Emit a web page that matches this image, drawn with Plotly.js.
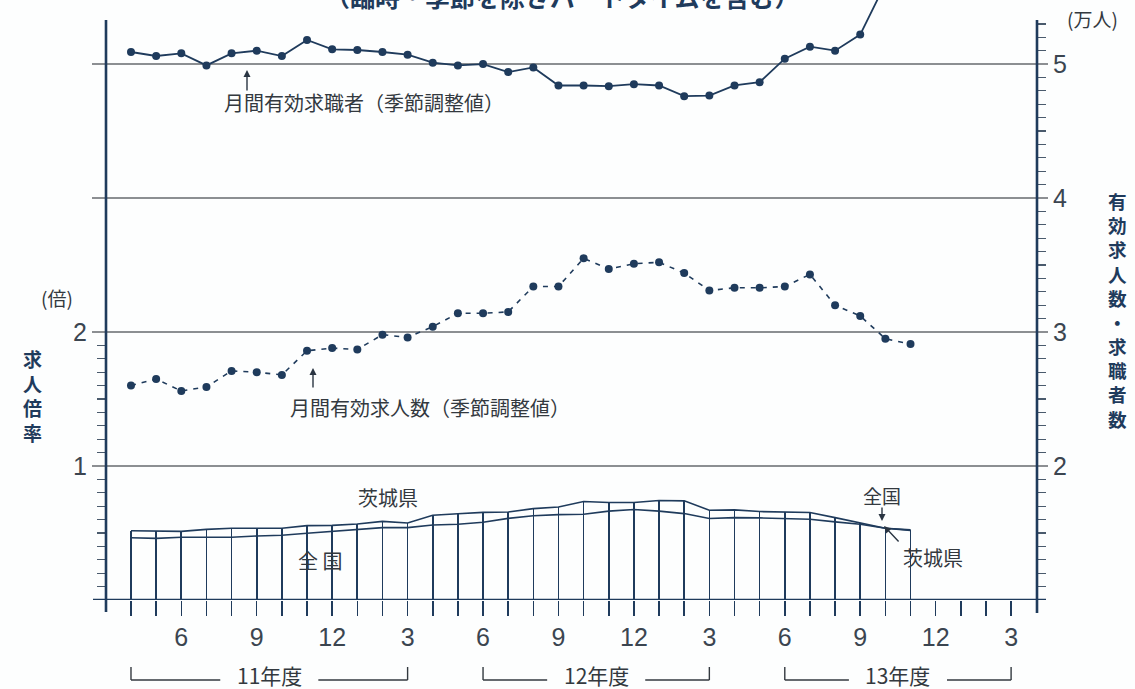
<!DOCTYPE html>
<html><head><meta charset="utf-8">
<script src="https://cdn.plot.ly/plotly-3.0.1.min.js"></script>
<style>html,body{margin:0;padding:0;background:#fdfefe}#chart{width:1135px;height:689px}</style>
</head><body><div id="chart"></div>
<script>
// ---- data (month index 0 = April of fiscal 11) ----
const monthIndex = [0,1,2,3,4,5,6,7,8,9,10,11,12,13,14,15,16,17,18,19,20,21,22,23,24,25,26,27,28,29,30,31];
const seekerMonthIndex = [0,1,2,3,4,5,6,7,8,9,10,11,12,13,14,15,16,17,18,19,20,21,22,23,24,25,26,27,28,29,30];
// 月間有効求職者 (万人)
const jobSeekers = [5.09,5.06,5.08,4.99,5.08,5.10,5.06,5.18,5.11,5.105,5.09,5.07,5.01,4.99,5.00,4.94,4.975,4.84,4.84,4.835,4.85,4.84,4.76,4.765,4.84,4.865,5.04,5.13,5.10,5.22,5.60];
// 月間有効求人数 (万人)
const jobOffers = [2.60,2.65,2.56,2.59,2.71,2.70,2.68,2.86,2.88,2.87,2.98,2.96,3.04,3.14,3.14,3.15,3.34,3.34,3.55,3.47,3.51,3.52,3.44,3.31,3.33,3.33,3.34,3.43,3.20,3.12,2.95,2.91];
// 求人倍率 茨城県 / 全国 (倍)
const ibarakiRatio = [0.517,0.517,0.512,0.527,0.535,0.535,0.535,0.555,0.557,0.567,0.587,0.575,0.632,0.644,0.654,0.657,0.682,0.694,0.735,0.728,0.728,0.743,0.740,0.670,0.673,0.660,0.655,0.653,0.615,0.575,0.535,0.523];
const nationalRatio = [0.465,0.460,0.468,0.468,0.468,0.478,0.483,0.498,0.512,0.527,0.540,0.540,0.560,0.565,0.580,0.609,0.629,0.637,0.640,0.663,0.675,0.663,0.645,0.608,0.615,0.613,0.608,0.603,0.583,0.565,0.535,0.520];
// axis ticks
const xTickVals = [2,5,8,11,14,17,20,23,26,29,32,35];
const xTickText = ['6','9','12','3','6','9','12','3','6','9','12','3'];
const fyLabels = ['11年度','12年度','13年度'];
const fyStart = [0,14,26];
const fyEnd = [11,23,35];
const leftTickVals = [1,2,3,4];
const leftTickText = ['1','2','',''];
const rightTickVals = [2,3,4,5];
const rightTickText = ['2','3','4','5'];

// ---- styling ----
const NAVY = '#1f3b5c';
const TXT = '#33393f';
const GRID = '#8c8f92';
const NUMFONT = 'Liberation Sans Narrow, Liberation Sans, Arial, sans-serif';
const JP = 'Noto Sans CJK JP, Noto Sans, sans-serif';
const L = 106, R = 1037, T = 0, B = 600;
const px = (x) => (x - L) / (R - L);
const py = (y) => (B - y) / (B - T);

const leftMinor = [];
for (let k = 1; k < 20; k++) if (k !== 10) leftMinor.push(k / 10);
const rightMinor = [];
for (let k = 11; k <= 53; k++) if (k % 10 !== 0) rightMinor.push(k / 10);
const xMinor = [];
for (let k = 0; k <= 35; k++) xMinor.push(k);

const traces = [
  {type:'bar', x:monthIndex, y:ibarakiRatio, width:0.065, marker:{color:NAVY, line:{width:0}}, yaxis:'y', hoverinfo:'skip'},
  {type:'scatter', mode:'lines', x:monthIndex, y:ibarakiRatio, line:{color:NAVY, width:1.6}, yaxis:'y', name:'茨城県'},
  {type:'scatter', mode:'lines', x:monthIndex, y:nationalRatio, line:{color:NAVY, width:1.6}, yaxis:'y', name:'全国'},
  {type:'scatter', mode:'lines+markers', x:monthIndex, y:jobOffers, yaxis:'y2', name:'月間有効求人数',
   line:{color:NAVY, width:1.6, dash:'5px,6px'}, marker:{color:NAVY, size:8}},
  {type:'scatter', mode:'lines+markers', x:seekerMonthIndex, y:jobSeekers, yaxis:'y2', name:'月間有効求職者',
   line:{color:NAVY, width:1.8}, marker:{color:NAVY, size:8}}
];

const shapes = [
  {type:'line', xref:'paper', yref:'y', x0:px(93), x1:px(1046), y0:0, y1:0, line:{color:NAVY, width:2.6}},
  {type:'line', xref:'paper', yref:'paper', x0:0, x1:0, y0:py(612), y1:py(20), line:{color:NAVY, width:2.6}},
  {type:'line', xref:'paper', yref:'paper', x0:1, x1:1, y0:py(613), y1:py(20), line:{color:NAVY, width:2.6}}
];
const annotations = [];
for (let k = 0; k < fyLabels.length; k++) {
  const mid = (fyStart[k] + fyEnd[k]) / 2;
  const yb = py(680), yt = py(667);
  shapes.push({type:'line', xref:'x', yref:'paper', x0:fyStart[k], x1:fyStart[k], y0:yb, y1:yt, line:{color:TXT, width:1.4}});
  shapes.push({type:'line', xref:'x', yref:'paper', x0:fyEnd[k], x1:fyEnd[k], y0:yb, y1:yt, line:{color:TXT, width:1.4}});
  shapes.push({type:'line', xref:'x', yref:'paper', x0:fyStart[k], x1:mid - 1.95, y0:yb, y1:yb, line:{color:TXT, width:1.4}});
  shapes.push({type:'line', xref:'x', yref:'paper', x0:mid + 1.95, x1:fyEnd[k], y0:yb, y1:yb, line:{color:TXT, width:1.4}});
  annotations.push({xref:'x', yref:'paper', x:mid, y:py(675), text:fyLabels[k], showarrow:false,
    font:{family:JP, size:21, color:TXT}, xanchor:'center', yanchor:'middle'});
}

function label(text, x, y, size, opts) {
  annotations.push(Object.assign({xref:'paper', yref:'paper', x:px(x), y:py(y), text:text, showarrow:false,
    xanchor:'center', yanchor:'middle', font:{family:JP, size:size, color:TXT}}, opts || {}));
}
function arrow(x, y, ax, ay) {
  annotations.push({xref:'paper', yref:'paper', x:px(x), y:py(y), ax:ax, ay:ay, text:'', showarrow:true,
    arrowhead:2, arrowsize:1, arrowwidth:1.4, arrowcolor:'#2a3542'});
}

label('月間有効求職者（季節調整値）', 364, 103, 20);
arrow(247, 70, 0, 22);
label('月間有効求人数（季節調整値）', 430, 408, 20);
arrow(313, 368, 0, 21);
label('茨城県', 388, 497, 20);
label('全 国', 320, 560, 20);
label('全国', 882, 495, 19);
arrow(882, 521, 0, -15);
label('茨城県', 933, 557, 20);
arrow(884, 526, 16, 17);
label('(倍)', 57, 297, 19);
label('(万人)', 1092, 18, 19);
label('（臨時・季節を除きパートタイムを含む）', 562, -4, 25, {font:{family:JP, size:25, color:NAVY, weight:'bold'}});

const leftTitle = '求人倍率';
label(leftTitle.split('').join('<br>'), 32, 396, 19, {font:{family:JP, size:19, color:NAVY, weight:'bold'}});
const rightTitle = '有効求人数・求職者数';
label(rightTitle.split('').join('<br>'), 1117, 310, 18.6, {font:{family:JP, size:18.6, color:NAVY, weight:'bold'}});

const layout = {
  width:1135, height:689,
  margin:{l:L, r:1135 - R, t:T, b:689 - B, pad:0},
  paper_bgcolor:'#fdfefe', plot_bgcolor:'#fdfefe',
  showlegend:false, bargap:0,
  xaxis:{range:[-0.994, 36.03], showgrid:false, zeroline:false, showline:false,
    tickmode:'array', tickvals:xTickVals, ticktext:xTickText,
    ticks:'outside', ticklen:15, tickwidth:1.5, tickcolor:NAVY, ticklabelstandoff:0,
    tickfont:{family:NUMFONT, size:25, color:'#3b4550'},
    minor:{tickmode:'array', tickvals:xMinor, ticks:'outside', ticklen:15, tickwidth:1.5, tickcolor:NAVY, showgrid:false}},
  yaxis:{range:[0, 4.478], showgrid:true, gridcolor:GRID, gridwidth:1.5, zeroline:false, showline:false,
    tickmode:'array', tickvals:leftTickVals, ticktext:leftTickText,
    ticks:'outside', ticklen:13, tickwidth:1.5, tickcolor:GRID,
    tickfont:{family:NUMFONT, size:25, color:'#3b4550'},
    minor:{tickmode:'array', tickvals:leftMinor, ticks:'outside', ticklen:8, tickwidth:1.3, tickcolor:'#4a5a6c', showgrid:false}},
  yaxis2:{range:[1, 5.478], overlaying:'y', side:'right', showgrid:false, zeroline:false, showline:false,
    tickmode:'array', tickvals:rightTickVals, ticktext:rightTickText,
    ticks:'outside', ticklen:10, tickwidth:1.5, tickcolor:GRID,
    tickfont:{family:NUMFONT, size:25, color:'#3b4550'},
    minor:{tickmode:'array', tickvals:rightMinor, ticks:'outside', ticklen:8, tickwidth:1.3, tickcolor:'#4a5a6c', showgrid:false}},
  shapes:shapes,
  annotations:annotations
};

Plotly.newPlot('chart', traces, layout, {displayModeBar:false, staticPlot:true});
</script>
</body></html>
